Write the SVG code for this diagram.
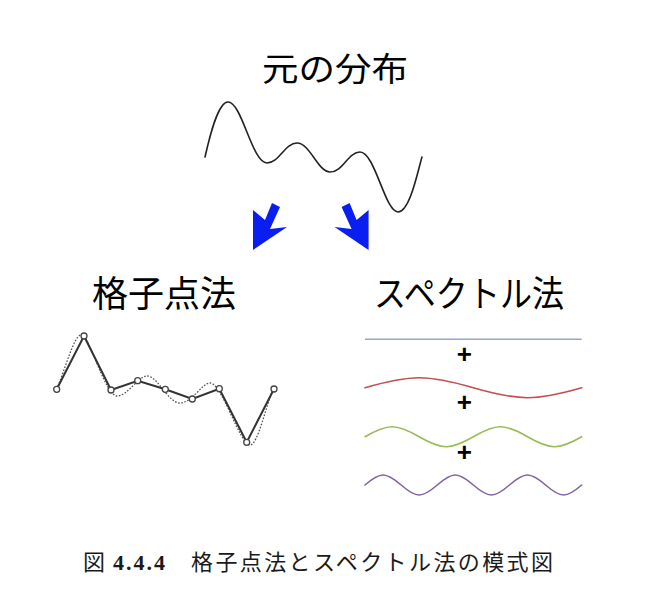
<svg xmlns="http://www.w3.org/2000/svg" width="668" height="598" viewBox="0 0 668 598">
<style>
.ttl{font-family:"Noto Sans CJK JP","Noto Sans",sans-serif;font-size:35px;fill:#000;}
.cap{font-family:"Liberation Serif","Noto Sans CJK JP",serif;font-size:22px;fill:#1a1a1a;}
.plus{font-family:"Liberation Sans",sans-serif;font-size:26px;font-weight:bold;fill:#000;text-anchor:middle;}
.wave{fill:none;stroke-width:1.6;stroke-linecap:round;}
.arrow{fill:#0a1ef2;}
.pt{fill:#fff;stroke:#444;stroke-width:1.3;}
</style>
<rect width="668" height="598" fill="#fff"/>

<g id="original">
<text class="ttl" x="262" y="81" textLength="146" lengthAdjust="spacingAndGlyphs" style="font-size:33px">元の分布</text>
<path class="wave" stroke="#222" stroke-width="1.4" d="M205,157 C210,135 218,102 228,102 C242,102 252,163 267,163 C279,163 285,143 297,143 C310,143 318,172 330,172 C343,172 348,152 360,152 C375,152 385,212 398,212 C410,212 418,170 422,157"/>
</g>

<g id="connectors">
<polygon class="arrow" points="253,250 253,210 265,220 272,203 280,207 270,229 287,227"/>
<polygon class="arrow" points="368.6,250 368.6,210 356.6,220 349.6,203 341.6,207 351.6,229 334.6,227"/>
</g>

<g id="grid">
<text class="ttl" x="92" y="307" textLength="144" lengthAdjust="spacingAndGlyphs" style="font-size:36px">格子点法</text>
<path fill="none" stroke="#555" stroke-width="1.3" stroke-dasharray="1.6,1.6" d="M56.7,389 C65,370 74,335 81,335 C90,335 105,396 117,396 C128,396 138,376 147,376 C158,376 168,403 180,403 C192,403 202,383 210,383 C222,383 240,445 250,445 C258,445 266,405 273,390"/>
<polyline fill="none" stroke="#333" stroke-width="2" points="56.7,389.3 84,336 111,390 137.7,380.7 165.3,389.3 192.3,399 219.3,388.7 246.7,442.3 274,389"/>
<circle class="pt" cx="56.7" cy="389.3" r="3"/>
<circle class="pt" cx="84" cy="336" r="3"/>
<circle class="pt" cx="111" cy="390" r="3"/>
<circle class="pt" cx="137.7" cy="380.7" r="3"/>
<circle class="pt" cx="165.3" cy="389.3" r="3"/>
<circle class="pt" cx="192.3" cy="399" r="3"/>
<circle class="pt" cx="219.3" cy="388.7" r="3"/>
<circle class="pt" cx="246.7" cy="442.3" r="3"/>
<circle class="pt" cx="274" cy="389" r="3"/>
</g>

<g id="spectral">
<text class="ttl" x="374" y="307" textLength="190" lengthAdjust="spacingAndGlyphs" style="font-size:36px">スペクトル法</text>
<line x1="365" y1="339.3" x2="581.7" y2="339.3" stroke="#8ea8d4" stroke-width="1.6"/>
<path class="wave" stroke="#c0504d" d="M365,387.7 C410.98,374.37 427.37,374.37 473.35,387.7 C519.33,401.03 535.72,401.03 581.7,387.7"/>
<path class="wave" stroke="#9bbb59" d="M365,436.7 C387.99,423.37 396.19,423.37 419.18,436.7 C442.17,450.03 450.36,450.03 473.35,436.7 C496.34,423.37 504.53,423.37 527.53,436.7 C550.52,450.03 558.71,450.03 581.7,436.7"/>
<path class="wave" stroke="#8064a2" d="M365,485 C380.33,471.67 385.79,471.67 401.12,485 C416.45,498.33 421.9,498.33 437.23,485 C452.56,471.67 458.02,471.67 473.35,485 C488.68,498.33 494.14,498.33 509.47,485 C524.8,471.67 530.25,471.67 545.58,485 C560.91,498.33 566.37,498.33 581.7,485"/>
<text class="plus" x="464.3" y="362.5">+</text>
<text class="plus" x="464.3" y="410.9">+</text>
<text class="plus" x="464.3" y="460.9">+</text>
</g>

<g id="caption">
<text class="cap" x="83" y="569.5">図</text>
<text class="cap" x="113" y="569.5" font-weight="bold" textLength="52" lengthAdjust="spacing">4.4.4</text>
<text class="cap" x="191" y="569.5" textLength="362" lengthAdjust="spacing">格子点法とスペクトル法の模式図</text>
</g>
</svg>
